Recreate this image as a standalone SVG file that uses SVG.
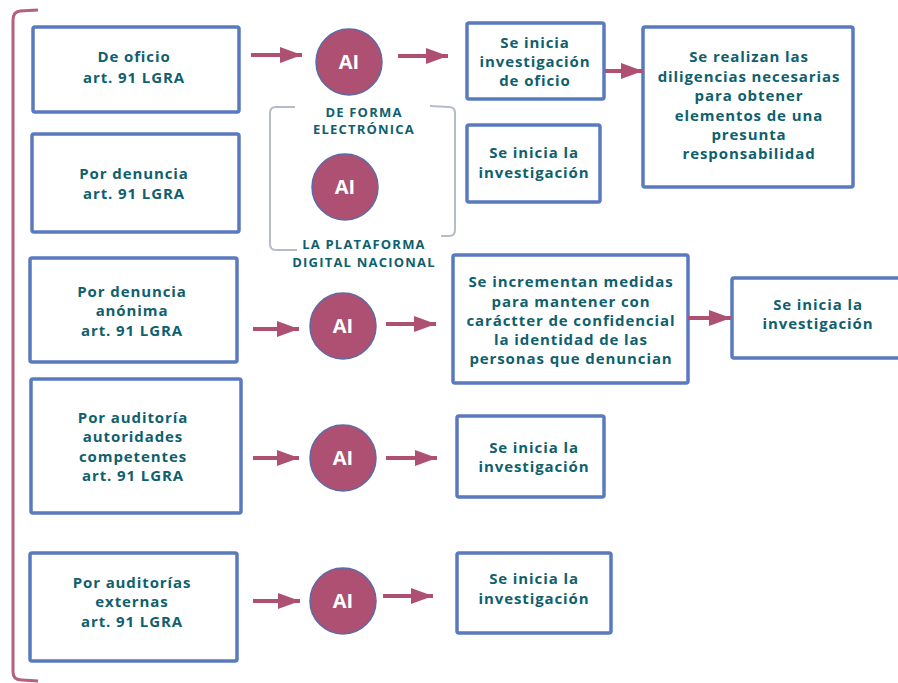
<svg xmlns="http://www.w3.org/2000/svg" width="898" height="683" viewBox="0 0 898 683">
<style>
.box{fill:#fff;stroke:#5a7abf;stroke-width:3.5}
.t{font-family:"Open Sans","Liberation Sans",sans-serif;font-weight:bold;font-size:15px;letter-spacing:0.9px;fill:#0f5f6e;text-anchor:middle}
.s{font-size:13px;letter-spacing:1.2px}
.ai{fill:#ad5071;stroke:#5d6aa6;stroke-width:1.5}
.ait{font-family:"Open Sans","Liberation Sans",sans-serif;font-weight:bold;font-size:20px;fill:#fff;text-anchor:middle}
.arr{stroke:#ad5071;stroke-width:4;fill:none}
.br{fill:none;stroke:#b4bcc8;stroke-width:2}
</style>
<defs>
<marker id="ah" markerUnits="userSpaceOnUse" markerWidth="24" markerHeight="18" refX="22" refY="8" orient="auto">
<path d="M0,0 L22,8 L0,16 z" fill="#ad5071"/>
</marker>
</defs>
<path d="M38,10 L20,11 Q13,12 13,20 L13,672 Q13,680 22,680 L38,681" fill="none" stroke="#b5607e" stroke-width="3"/>
<path class="br" d="M295,107 L276,107 Q270,107 270,113 L270,244 Q270,250 276,250 L297,250"/>
<path class="br" d="M430,106 L449,107 Q455,107 455,113 L455,230 Q455,236 449,236 L441,236"/>

<g id="n1"><rect class="box" x="33" y="27" width="206" height="85" rx="2"/><text class="t" x="134" y="62">De oficio</text><text class="t" x="134" y="83">art. 91 LGRA</text></g>
<g id="n2"><rect class="box" x="32" y="134" width="207" height="98" rx="2"/><text class="t" x="134" y="179">Por denuncia</text><text class="t" x="134" y="199">art. 91 LGRA</text></g>
<g id="n3"><rect class="box" x="30" y="258" width="207" height="104" rx="2"/><text class="t" x="132" y="297">Por denuncia</text><text class="t" x="132" y="316">anónima</text><text class="t" x="132" y="336">art. 91 LGRA</text></g>
<g id="n4"><rect class="box" x="31" y="379" width="210" height="134" rx="2"/><text class="t" x="133" y="423">Por auditoría</text><text class="t" x="133" y="442">autoridades</text><text class="t" x="133" y="462">competentes</text><text class="t" x="133" y="481">art. 91 LGRA</text></g>
<g id="n5"><rect class="box" x="30" y="553" width="207" height="108" rx="2"/><text class="t" x="132" y="588">Por auditorías</text><text class="t" x="132" y="607">externas</text><text class="t" x="132" y="627">art. 91 LGRA</text></g>

<g id="ai1"><circle class="ai" cx="349" cy="62" r="33"/><text class="ait" x="349" y="69">AI</text></g>
<g id="ai2"><circle class="ai" cx="345" cy="187" r="33"/><text class="ait" x="345" y="194">AI</text></g>
<g id="ai3"><circle class="ai" cx="343" cy="326" r="33"/><text class="ait" x="343" y="333">AI</text></g>
<g id="ai4"><circle class="ai" cx="343" cy="458" r="33"/><text class="ait" x="343" y="465">AI</text></g>
<g id="ai5"><circle class="ai" cx="343" cy="601" r="33"/><text class="ait" x="343" y="608">AI</text></g>

<g id="lbl1"><text class="t s" x="364" y="117">DE FORMA</text><text class="t s" x="364" y="134">ELECTRÓNICA</text></g>
<g id="lbl2"><text class="t s" x="364" y="249">LA PLATAFORMA</text><text class="t s" x="364" y="267">DIGITAL NACIONAL</text></g>

<g id="r1"><rect class="box" x="467" y="23" width="137" height="76" rx="2"/><text class="t" x="535" y="48">Se inicia</text><text class="t" x="535" y="67">investigación</text><text class="t" x="535" y="86">de oficio</text></g>
<g id="r2"><rect class="box" x="643" y="27" width="210" height="160" rx="2"/><text class="t" x="749" y="62">Se realizan las</text><text class="t" x="749" y="82">diligencias necesarias</text><text class="t" x="749" y="101">para obtener</text><text class="t" x="749" y="121">elementos de una</text><text class="t" x="749" y="140">presunta</text><text class="t" x="749" y="159">responsabilidad</text></g>
<g id="r3"><rect class="box" x="467" y="125" width="133" height="77" rx="2"/><text class="t" x="534" y="158">Se inicia la</text><text class="t" x="534" y="178">investigación</text></g>
<g id="r4"><rect class="box" x="453" y="255" width="235" height="128" rx="2"/><text class="t" x="571" y="287">Se incrementan medidas</text><text class="t" x="571" y="307">para mantener con</text><text class="t" x="571" y="326">caráctter de confidencial</text><text class="t" x="571" y="345">la identidad de las</text><text class="t" x="571" y="364">personas que denuncian</text></g>
<g id="r5"><rect class="box" x="732" y="278" width="175" height="80" rx="2"/><text class="t" x="818" y="310">Se inicia la</text><text class="t" x="818" y="329">investigación</text></g>
<g id="r6"><rect class="box" x="457" y="416" width="147" height="81" rx="2"/><text class="t" x="534" y="453">Se inicia la</text><text class="t" x="534" y="472">investigación</text></g>
<g id="r7"><rect class="box" x="457" y="553" width="154" height="80" rx="2"/><text class="t" x="534" y="584">Se inicia la</text><text class="t" x="534" y="604">investigación</text></g>

<g id="connectors">
<line class="arr" x1="251" y1="55" x2="302" y2="55" marker-end="url(#ah)"/>
<line class="arr" x1="398" y1="56" x2="448" y2="56" marker-end="url(#ah)"/>
<line class="arr" x1="605" y1="71" x2="643" y2="71" marker-end="url(#ah)" stroke-width="5"/>
<line class="arr" x1="253" y1="329" x2="299" y2="329" marker-end="url(#ah)"/>
<line class="arr" x1="386" y1="324" x2="436" y2="324" marker-end="url(#ah)"/>
<line class="arr" x1="688" y1="318" x2="731" y2="318" marker-end="url(#ah)" stroke-width="5"/>
<line class="arr" x1="253" y1="458" x2="299" y2="458" marker-end="url(#ah)"/>
<line class="arr" x1="386" y1="458" x2="437" y2="458" marker-end="url(#ah)"/>
<line class="arr" x1="253" y1="601" x2="300" y2="601" marker-end="url(#ah)"/>
<line class="arr" x1="383" y1="596" x2="433" y2="596" marker-end="url(#ah)"/>
</g>
</svg>
